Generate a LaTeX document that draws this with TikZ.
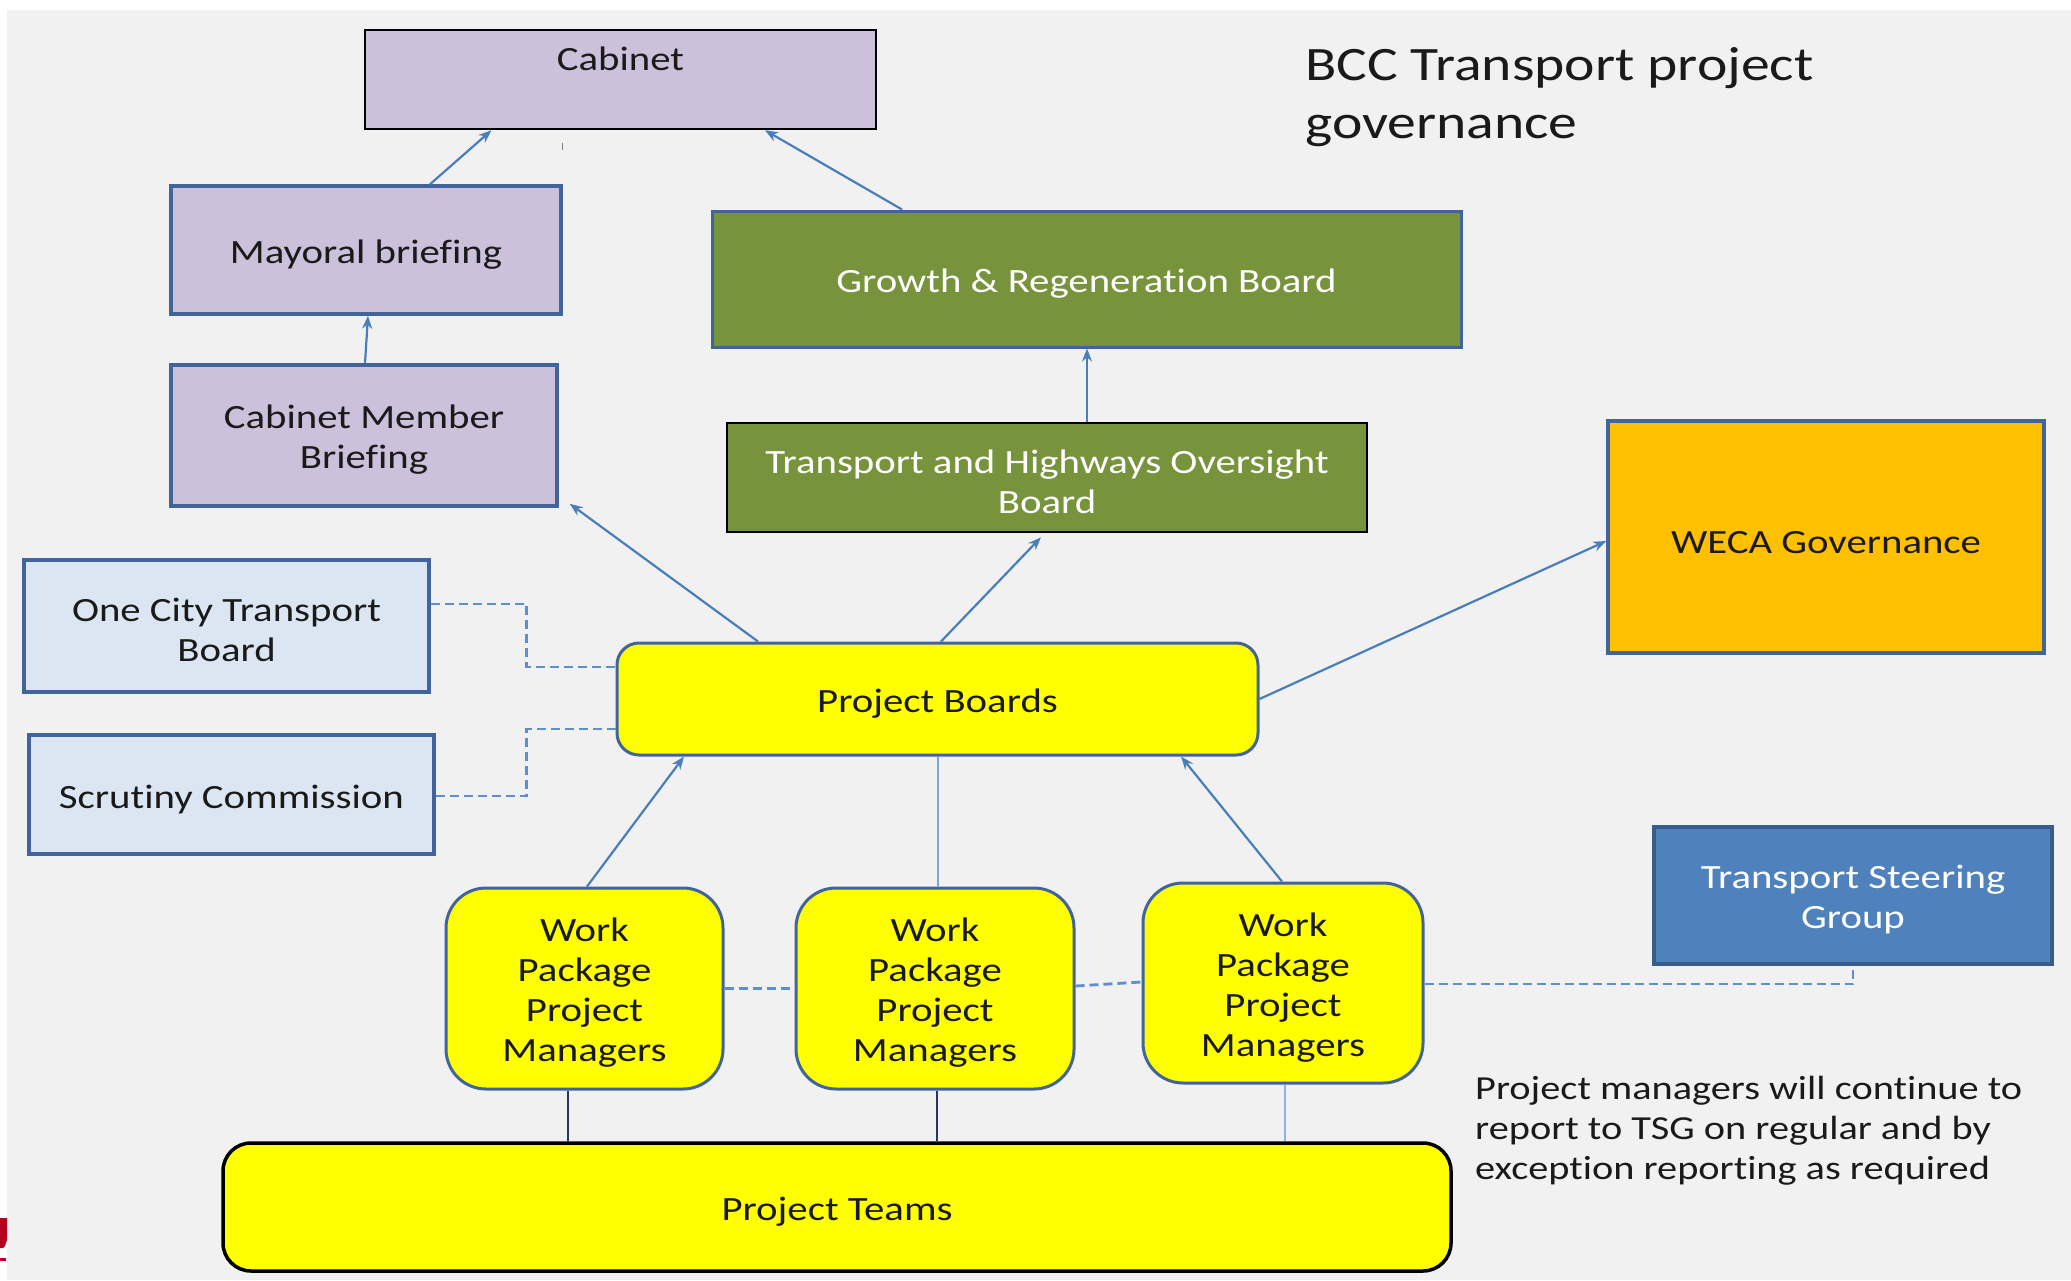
\documentclass[tikz,border=0pt]{standalone}
\usepackage{fontspec}
\setmainfont{Carlito}[FakeStretch=1.2,Ligatures=CommonOff]
\usetikzlibrary{arrows.meta,calc}
\definecolor{bg}{HTML}{F1F1F1}
\definecolor{lav}{HTML}{CCC1DA}
\definecolor{bord}{HTML}{41659A}
\definecolor{grn}{HTML}{77933C}
\definecolor{lblue}{HTML}{DCE6F2}
\definecolor{weca}{HTML}{FFC000}
\definecolor{yel}{HTML}{FFFF00}
\definecolor{tsgf}{HTML}{4F81BD}
\definecolor{tsgb}{HTML}{385D8A}
\definecolor{arr}{HTML}{4A7EBB}
\definecolor{dsh}{HTML}{5B8FD0}
\definecolor{navy}{HTML}{203864}
\definecolor{pale}{HTML}{8EB4E3}
\definecolor{txt}{HTML}{1A1A1A}
\definecolor{logo}{HTML}{B5001F}
\newcommand{\upgap}{\rule{0pt}{32pt}}
\tikzset{
  boxtext/.style={font=\fontsize{34}{40}\selectfont, align=center, text=txt},
  basebox/.style={boxtext, draw, inner sep=0pt, execute at begin node={\rule{0pt}{33pt}}},
  lavbox/.style={basebox, fill=lav, draw=bord, line width=3.5pt},
  cabbox/.style={basebox, fill=lav, draw=black, line width=2.5pt},
  grnbox/.style={basebox, fill=grn, draw=bord, line width=3pt, text=white},
  grnbox2/.style={basebox, fill=grn, draw=black, line width=2.5pt, text=white},
  ltbox/.style={basebox, fill=lblue, draw=bord, line width=3.5pt},
  wecabox/.style={basebox, fill=weca, draw=bord, line width=3.5pt},
  pbbox/.style={basebox, fill=yel, draw=bord, line width=3pt, rounded corners=22pt},
  wpbox/.style={basebox, fill=yel, draw=bord, line width=3pt, rounded corners=40pt},
  ptbox/.style={basebox, fill=yel, draw=black, line width=3.5pt, rounded corners=28pt},
  tsgbox/.style={basebox, fill=tsgf, draw=tsgb, line width=3.5pt, text=white},
  arrline/.style={draw=arr, line width=2.2pt, -{Stealth[length=13pt,width=10pt]}},
  plainline/.style={draw=arr!70!white, line width=2pt},
  navyline/.style={draw=navy, line width=2pt},
  paleline/.style={draw=pale, line width=2.5pt},
  dashline/.style={draw=dsh, line width=2.8pt, dash pattern=on 9pt off 5pt},
}
\begin{document}
\begin{tikzpicture}[x=1pt,y=-1pt]
\useasboundingbox (0,0) rectangle (2071,1280);
\fill[white] (0,0) rectangle (2071,1280);
\fill[bg] (7,10) rectangle (2071,1280);
% logo fragment
\fill[logo] (0,1218) -- (7,1218) -- (7,1240) -- (5,1246) -- (3,1248) -- (0,1248) -- cycle;
\fill[logo] (0,1258) rectangle (6,1261);

% nodes
\node[cabbox, minimum width=511, minimum height=99] (cab) at (620.5,79.5) {};
\node[boxtext] (cabt) at (620.5,59) {Cabinet};
\draw[gray, line width=1pt] (562,143) -- (562,150);
\node[lavbox, minimum width=390, minimum height=128] (may) at (366,250) {Mayoral briefing};
\node[lavbox, minimum width=386, minimum height=141] (cmb) at (364,435.5) {\upgap Cabinet Member\\Briefing};
\node[grnbox, minimum width=749, minimum height=136] (grow) at (1086.5,279) {Growth \& Regeneration Board};
\node[grnbox2, minimum width=640, minimum height=109] (thob) at (1047,477.5) {\upgap Transport and Highways Oversight\\Board};
\node[wecabox, minimum width=436, minimum height=232] (weca) at (1826,537) {WECA Governance};
\node[ltbox, minimum width=405, minimum height=132] (octb) at (226.5,626) {\upgap One City Transport\\Board};
\node[ltbox, minimum width=405, minimum height=119] (scr) at (231.5,794.5) {Scrutiny Commission};
\node[pbbox, minimum width=641, minimum height=112] (pb) at (937.5,699) {Project Boards};
\node[wpbox, minimum width=277, minimum height=201] (wp1) at (584.5,988.5) {\upgap Work\\Package\\Project\\Managers};
\node[wpbox, minimum width=278, minimum height=201] (wp2) at (935,988.5) {\upgap Work\\Package\\Project\\Managers};
\node[wpbox, minimum width=280, minimum height=200] (wp3) at (1283,983) {\upgap Work\\Package\\Project\\Managers};
\node[ptbox, minimum width=1228, minimum height=128] (pt) at (837,1207) {Project Teams};
\node[tsgbox, minimum width=398, minimum height=137] (tsg) at (1853,895.5) {\upgap Transport Steering\\Group};
\node[font=\fontsize{48}{58}\selectfont, align=left, anchor=west, text=txt, inner sep=0pt] (title) at (1305,97) {BCC Transport project\\governance};
\node[font=\fontsize{33.6}{40}\selectfont, align=left, anchor=west, text=txt, inner sep=0pt] (note) at (1475,1131) {Project managers will continue to\\report to TSG on regular and by\\exception reporting as required};

% arrows
\draw[arrline] ([xshift=64]may.north) -- ([xshift=-129]cab.south);
\draw[arrline] ([xshift=1]cmb.north) -- ([xshift=2]may.south);
\draw[arrline] ([xshift=-184.5]grow.north) -- ([xshift=144.5]cab.south);
\draw[arrline] ([xshift=40]thob.north) -- ([xshift=0.5]grow.south);
\draw[arrline] ([xshift=-179.5]pb.north) -- ([xshift=11,yshift=4]cmb.south east);
\draw[arrline] ([xshift=3.5]pb.north) -- ([xshift=-6,yshift=-4]thob.south);
\draw[arrline] (pb.east) -- ([yshift=-4]weca.west);
\draw[arrline] ([xshift=2.5]wp1.north) -- ([xshift=-253.5]pb.south);
\draw[arrline] ([xshift=-1]wp3.north) -- ([xshift=243.5]pb.south);
\draw[plainline] (pb.south) -- (pb.south |- wp2.north);

% to project teams
\draw[navyline] ([xshift=-16.5]wp1.south) -- ([xshift=-16.5]wp1.south |- pt.north);
\draw[navyline] ([xshift=2]wp2.south) -- ([xshift=2]wp2.south |- pt.north);
\draw[paleline] ([xshift=2]wp3.south) -- ([xshift=2]wp3.south |- pt.north);

% dashed links
\draw[dashline] ([yshift=22]octb.east) -- ++(96,0) |- ([yshift=32]pb.west);
\draw[dashline] ([yshift=-1.5]scr.east) -- ++(91,0) |- ([yshift=-30]pb.west);
\draw[dashline] (wp1.east) -- (wp2.west);
\draw[dashline] ([yshift=2.5]wp2.east) -- ([yshift=1]wp3.west);
\draw[dashline] ([yshift=-1]wp3.east) -| (tsg.south);
\end{tikzpicture}
\end{document}
